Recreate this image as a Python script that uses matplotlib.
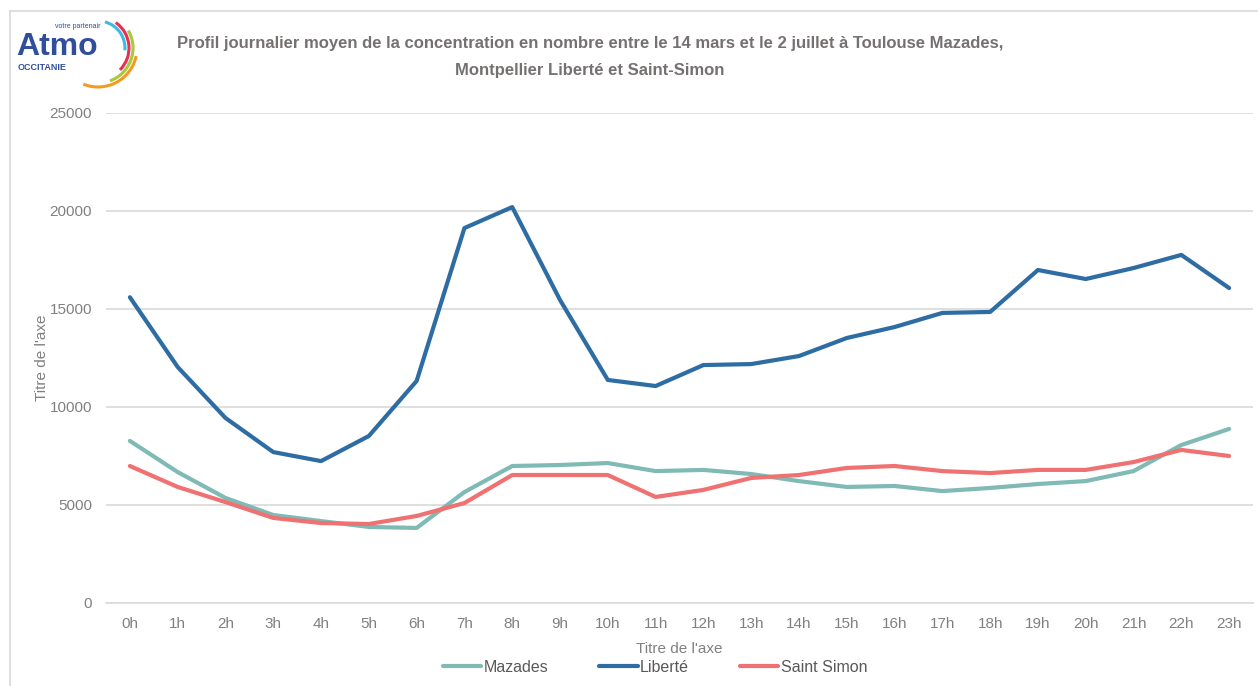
import numpy as np
import matplotlib
matplotlib.use('Agg')
import matplotlib.pyplot as plt
from matplotlib.patches import Arc
from matplotlib.lines import Line2D

plt.rcParams['font.family'] = ['Liberation Sans Narrow', 'Liberation Sans', 'DejaVu Sans']

# data
hours = ['%dh' % i for i in range(24)]
mazades = [8270, 6680, 5360, 4490, 4180, 3880, 3830, 5660, 6990, 7040, 7140, 6730,
           6790, 6580, 6220, 5920, 5970, 5710, 5870, 6070, 6220, 6730, 8060, 8880]
liberte = [15600, 12040, 9440, 7700, 7240, 8520, 11330, 19130, 20200, 15460, 11380, 11070,
           12140, 12190, 12600, 13520, 14080, 14800, 14850, 16990, 16530, 17090, 17760, 16070]
saint_simon = [6990, 5920, 5150, 4340, 4080, 4030, 4440, 5100, 6530, 6530, 6530, 5410,
               5770, 6380, 6530, 6890, 6990, 6730, 6630, 6790, 6790, 7190, 7810, 7500]

c_maz = '#7fbab5'
c_lib = '#2e6ca4'
c_ss = '#ef7172'
grey = '#808080'

W, H = 1258, 686
fig = plt.figure(figsize=(W/100, H/100), dpi=100)

# chart frame
fig.add_artist(Line2D([10/W, 10/W], [0, 1 - 11/H], color='#d9d9d9', lw=1.2))
fig.add_artist(Line2D([10/W, 1], [1 - 11/H, 1 - 11/H], color='#d9d9d9', lw=1.2))

ax = fig.add_axes([106/W, 1 - 603/H, (1253-106)/W, (603-113)/H])
x = np.arange(len(hours))
ax.plot(x, mazades, color=c_maz, lw=3, label='Mazades', solid_capstyle='round')
ax.plot(x, liberte, color=c_lib, lw=3, label='Liberté', solid_capstyle='round')
ax.plot(x, saint_simon, color=c_ss, lw=3, label='Saint Simon', solid_capstyle='round')

ax.set_xlim(-0.5, 23.5)
ax.set_ylim(0, 25000)
ax.set_yticks(range(0, 25001, 5000))
ax.set_xticks(x)
ax.set_xticklabels(hours)
ax.grid(axis='y', color='#d9d9d9', lw=1.2)
ax.set_axisbelow(True)
for s in ['top', 'right', 'left']:
    ax.spines[s].set_visible(False)
ax.spines['bottom'].set_color('#d9d9d9')
ax.spines['bottom'].set_linewidth(1.2)
ax.tick_params(axis='both', length=0, colors=grey, labelsize=11)
ax.tick_params(axis='y', pad=10)
ax.tick_params(axis='x', pad=10)
ax.set_xlabel("Titre de l'axe", color=grey, fontsize=11, labelpad=8)
ax.set_ylabel("Titre de l'axe", color=grey, fontsize=11)
ax.yaxis.set_label_coords(-0.05, 0.5)

leg = fig.legend(loc='center', bbox_to_anchor=(655/W, 1 - 667/H), ncol=3, frameon=False,
                 fontsize=11.5, handlelength=2.4, handletextpad=0.15, columnspacing=3.2)
for t in leg.get_texts():
    t.set_color('#595959')

fig.text(590/W, 1 - 57/H, 'Profil journalier moyen de la concentration en nombre entre le 14 mars et le 2 juillet à Toulouse Mazades,\nMontpellier Liberté et Saint-Simon',
         ha='center', va='center', fontsize=12, fontweight='bold', color='#767171', linespacing=2.0)

# logo
fig.text(16/W, 1 - 47/H, 'Atmo', fontsize=23, fontweight='bold', color='#2f4e9c',
         family=['Liberation Sans', 'DejaVu Sans'], va='center', ha='left')
fig.text(18/W, 1 - 68/H, 'OCCITANIE', fontsize=6.5, fontweight='bold', color='#2f4e9c',
         family=['Liberation Sans', 'DejaVu Sans'], va='center', ha='left')
fig.text(55/W, 1 - 27/H, "votre partenair", fontsize=5, color='#2f4e9c',
         family=['Liberation Sans', 'DejaVu Sans'], va='center', ha='left')
lax = fig.add_axes([0, 1 - 100/H, 200/W, 100/H])
lax.set_xlim(0, 200)
lax.set_ylim(0, 100)
lax.axis('off')
for (r, t1, t2, col) in [(27, -5, 75, '#3cb9e6'), (31, -45, 55, '#e8304e'),
                         (35, -70, 30, '#a8c93b'), (39, -112, -12, '#f39a1f')]:
    lax.add_patch(Arc((98, 52), 2*r, 2*r, theta1=t1, theta2=t2, color=col, lw=2.2))

fig.savefig('out.png', dpi=100)
